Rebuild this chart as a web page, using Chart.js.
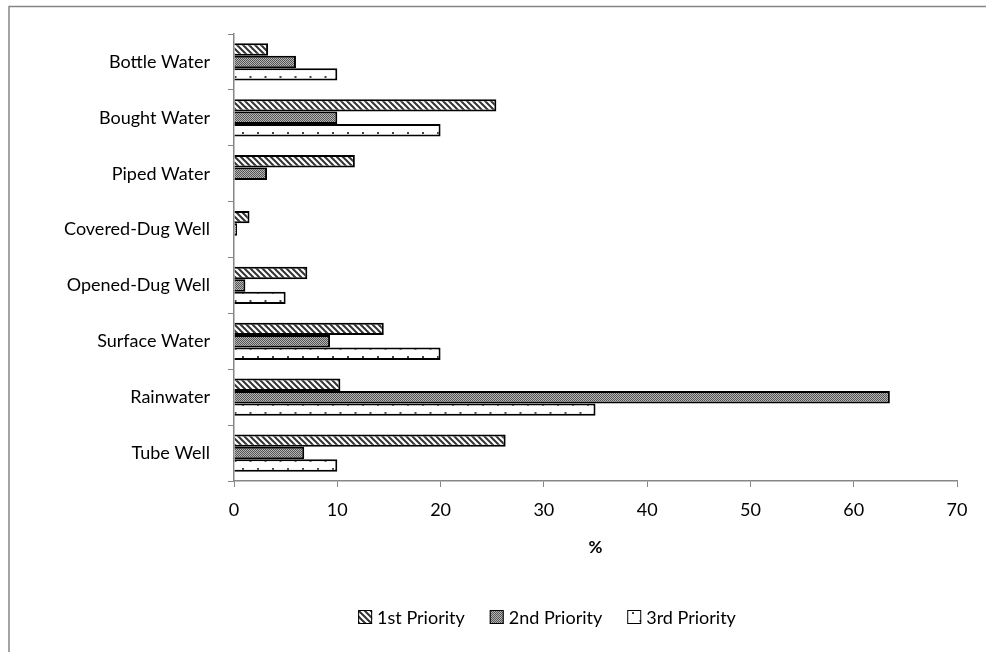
<!DOCTYPE html>
<html>
<head>
<meta charset="utf-8">
<script src="https://cdn.jsdelivr.net/npm/chart.js@4/dist/chart.umd.min.js"></script>
<style>
  html, body { margin: 0; padding: 0; background: #fff; }
  #wrap { width: 986px; height: 652px; }
</style>
</head>
<body>
<div id="wrap"><canvas id="c" width="986" height="652"></canvas></div>
<script>
// Water sources and share of households (%) by priority
const categories = ['Bottle Water', 'Bought Water', 'Piped Water', 'Covered-Dug Well',
                    'Opened-Dug Well', 'Surface Water', 'Rainwater', 'Tube Well'];
const seriesNames = ['1st Priority', '2nd Priority', '3rd Priority'];
const firstPriority  = [3.3, 25.4, 11.7, 1.5, 7.1, 14.5, 10.3, 26.3];
const secondPriority = [6.0, 10.0, 3.2, 0.3, 1.1, 9.3, 63.5, 6.8];
const thirdPriority  = [10.0, 20.0, 0, 0, 5.0, 20.0, 35.0, 10.0];
const xTicks = [0, 10, 20, 30, 40, 50, 60, 70];

const FONT = 'Lato, "Open Sans", sans-serif';
const AXIS_GRAY = '#868686';

function tile(w, h, paint) {
  const cv = document.createElement('canvas');
  cv.width = w; cv.height = h;
  const g = cv.getContext('2d');
  paint(g);
  return document.getElementById('c').getContext('2d').createPattern(cv, 'repeat');
}

// diagonal hatch ( \\\ )
const hatch = tile(6, 6, g => {
  g.fillStyle = '#fff'; g.fillRect(0, 0, 6, 6);
  g.strokeStyle = '#333'; g.lineWidth = 2;
  g.beginPath();
  g.moveTo(-1, -1); g.lineTo(7, 7);
  g.moveTo(-1, 5); g.lineTo(1, 7);
  g.moveTo(5, -1); g.lineTo(7, 1);
  g.stroke();
});

// fine checker
const checker = tile(2, 2, g => {
  g.fillStyle = '#b4b4b4'; g.fillRect(0, 0, 2, 2);
  g.fillStyle = '#555'; g.fillRect(0, 0, 1, 1); g.fillRect(1, 1, 1, 1);
});

// sparse dots
const dots = tile(15, 16, g => {
  g.fillStyle = '#fff'; g.fillRect(0, 0, 15, 16);
  g.fillStyle = '#444';
  g.fillRect(2, 4, 2, 2);
  g.fillRect(9.5, 12, 2, 2);
});

const patterns = [hatch, checker, dots];
const values = [firstPriority, secondPriority, thirdPriority];

// outer frame (left and top edges)
const frame = {
  id: 'frame',
  beforeDraw(chart) {
    const ctx = chart.ctx;
    ctx.save();
    ctx.fillStyle = '#fff';
    ctx.fillRect(0, 0, chart.width, chart.height);
    ctx.strokeStyle = AXIS_GRAY;
    ctx.lineWidth = 1.5;
    ctx.beginPath();
    ctx.moveTo(9, chart.height); ctx.lineTo(9, 6.5); ctx.lineTo(chart.width, 6.5);
    ctx.stroke();
    ctx.restore();
  }
};

// compact legend row below the axis title
const bottomLegend = {
  id: 'bottomLegend',
  afterDraw(chart, args, opts) {
    const ctx = chart.ctx;
    const box = 14, textGap = 5, itemGap = 25;
    ctx.save();
    ctx.font = '18px ' + FONT;
    ctx.textBaseline = 'middle';
    const items = chart.data.datasets.map(ds => ({
      label: ds.label, fill: ds.backgroundColor,
      w: box + textGap + ctx.measureText(ds.label).width
    }));
    const total = items.reduce((s, it) => s + it.w, 0) + itemGap * (items.length - 1);
    let x = opts.centerX - total / 2;
    const y = opts.y;
    items.forEach(it => {
      ctx.fillStyle = it.fill;
      ctx.fillRect(x, y - box / 2, box, box);
      ctx.strokeStyle = '#000';
      ctx.lineWidth = 1;
      ctx.strokeRect(x + 0.5, y - box / 2 + 0.5, box - 1, box - 1);
      ctx.fillStyle = '#000';
      ctx.fillText(it.label, x + box + textGap, y + 1);
      x += it.w + itemGap;
    });
    ctx.restore();
  }
};

new Chart(document.getElementById('c'), {
  type: 'bar',
  data: {
    labels: categories,
    datasets: seriesNames.map((name, i) => ({
      label: name,
      data: values[i],
      backgroundColor: patterns[i],
      borderColor: '#000',
      borderWidth: 2,
      categoryPercentage: 0.667,
      barPercentage: 1.0
    }))
  },
  options: {
    indexAxis: 'y',
    responsive: false,
    animation: false,
    layout: { padding: { left: 10, right: 29, top: 34, bottom: 0 } },
    scales: {
      x: {
        min: 0, max: 70,
        afterBuildTicks(scale) { scale.ticks = xTicks.map(v => ({ value: v })); },
        afterFit(scale) { scale.height = 171; },
        grid: { drawOnChartArea: false, color: AXIS_GRAY, tickLength: 6, tickColor: AXIS_GRAY },
        border: { color: AXIS_GRAY, width: 1.5 },
        ticks: { font: { family: FONT, size: 18 }, color: '#000', padding: 12, maxRotation: 0 },
        title: { display: true, text: '%', font: { family: FONT, size: 17, weight: 'bold' },
                 color: '#000', padding: { top: 0, bottom: 94 } }
      },
      y: {
        afterFit(scale) { scale.width = 224; },
        grid: { drawOnChartArea: false, offset: true, color: AXIS_GRAY, tickLength: 6, tickColor: AXIS_GRAY },
        border: { color: AXIS_GRAY, width: 1.5 },
        ticks: { font: { family: FONT, size: 18 }, color: '#000', padding: 18 }
      }
    },
    plugins: {
      legend: { display: false },
      tooltip: { enabled: false },
      bottomLegend: { centerX: 547, y: 617 }
    }
  },
  plugins: [frame, bottomLegend]
});
</script>
</body>
</html>
